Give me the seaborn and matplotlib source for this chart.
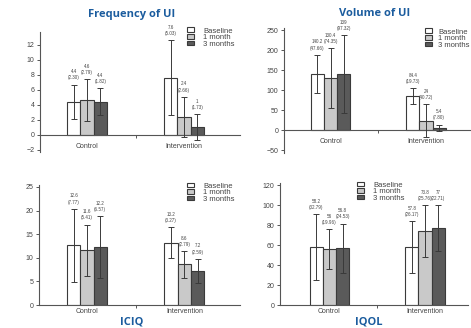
import matplotlib
matplotlib.use("Agg")
import matplotlib.pyplot as plt
from matplotlib.container import BarContainer
import seaborn as sns
import pandas as pd

# ---- data -------------------------------------------------------------
groups = ["Control", "Intervention"]
timepoints = ["Baseline", "1 month", "3 months"]

freq_mean = {"Control": [4.4, 4.6, 4.4], "Intervention": [7.6, 2.4, 1.0]}
freq_sd = {"Control": [2.30, 2.79, 1.82], "Intervention": [5.03, 2.66, 1.73]}
freq_lbl = {"Control": ["4.4", "4.6", "4.4"], "Intervention": ["7.6", "2.4", "1"]}
freq_sdlbl = {"Control": ["2.30", "2.79", "1.82"], "Intervention": ["5.03", "2.66", "1.73"]}

vol_mean = {"Control": [140.2, 130.4, 139.0], "Intervention": [84.4, 24.0, 5.4]}
vol_sd = {"Control": [47.66, 74.35, 97.32], "Intervention": [19.73, 40.72, 7.80]}
vol_lbl = {"Control": ["140.2", "130.4", "139"], "Intervention": ["84.4", "24", "5.4"]}
vol_sdlbl = {"Control": ["47.66", "74.35", "97.32"], "Intervention": ["19.73", "40.72", "7.80"]}

iciq_mean = {"Control": [12.6, 11.6, 12.2], "Intervention": [13.2, 8.6, 7.2]}
iciq_sd = {"Control": [7.77, 5.41, 6.57], "Intervention": [3.27, 2.79, 2.59]}
iciq_lbl = {"Control": ["12.6", "11.6", "12.2"], "Intervention": ["13.2", "8.6", "7.2"]}
iciq_sdlbl = {"Control": ["7.77", "5.41", "6.57"], "Intervention": ["3.27", "2.79", "2.59"]}

iqol_mean = {"Control": [58.2, 56.0, 56.8], "Intervention": [57.8, 73.8, 77.0]}
iqol_sd = {"Control": [32.79, 19.96, 24.53], "Intervention": [26.17, 25.76, 22.71]}
iqol_lbl = {"Control": ["58.2", "56", "56.8"], "Intervention": ["57.8", "73.8", "77"]}
iqol_sdlbl = {"Control": ["32.79", "19.96", "24.53"], "Intervention": ["26.17", "25.76", "22.71"]}

titles = ["Frequency of UI", "Volume of UI", "ICIQ", "IQOL"]

# ---- style ------------------------------------------------------------
sns.set_theme(style="white")
plt.rcParams["font.family"] = ["Liberation Sans", "DejaVu Sans"]

W, H = 471, 328
fig = plt.figure(figsize=(W / 100, H / 100), dpi=100)
fig.patch.set_facecolor("white")

palette = {"Baseline": "#ffffff", "1 month": "#c9c9c9", "3 months": "#5a5a5a"}
ink = "#3a3a3a"
title_color = "#1b5c9e"


def box(l, t, r, b):
    return [l / W, 1 - b / H, (r - l) / W, (b - t) / H]


panels = [
    dict(mean=freq_mean, sd=freq_sd, lbl=freq_lbl, sdl=freq_sdlbl,
         rect=box(40, 32, 240, 152), ylim=(-2.3, 13.7), xlim=(-0.485, 1.577),
         yticks=range(-2, 13, 2), leg=(187, 27.5), legpad=1.2, xpad=6.0,
         title_xy=(132, 14)),
    dict(mean=vol_mean, sd=vol_sd, lbl=vol_lbl, sdl=vol_sdlbl,
         rect=box(284, 28, 490, 153), ylim=(-57, 255), xlim=(-0.487, 1.67),
         yticks=range(-50, 251, 50), leg=(425, 28.5), legpad=0.8, xpad=6.0,
         title_xy=(375, 14)),
    dict(mean=iciq_mean, sd=iciq_sd, lbl=iciq_lbl, sdl=iciq_sdlbl,
         rect=box(39, 185, 240, 305), ylim=(0, 25.4), xlim=(-0.492, 1.57),
         yticks=range(0, 26, 5), leg=(187, 182.5), legpad=1.2, xpad=2.5,
         title_xy=(132, 322)),
    dict(mean=iqol_mean, sd=iqol_sd, lbl=iqol_lbl, sdl=iqol_sdlbl,
         rect=box(280, 183, 468, 305), ylim=(0, 122), xlim=(-0.518, 1.45),
         yticks=range(0, 121, 20), leg=(357, 181.5), legpad=1.2, xpad=2.5,
         title_xy=(369, 322)),
]

for p, title in zip(panels, titles):
    rows = []
    for g in groups:
        for t, m in zip(timepoints, p["mean"][g]):
            rows.append({"group": g, "time": t, "value": m})
    df = pd.DataFrame(rows)

    ax = fig.add_axes(p["rect"])
    ax.set_facecolor("white")
    sns.barplot(data=df, x="group", y="value", hue="time", order=groups,
                hue_order=timepoints, palette=palette, width=0.41,
                edgecolor=ink, linewidth=0.8, errorbar=None, legend=False,
                ax=ax)

    ax.set_xlim(*p["xlim"])
    ax.set_ylim(*p["ylim"])
    span = p["ylim"][1] - p["ylim"][0]

    bars = [c for c in ax.containers if isinstance(c, BarContainer)]

    # error bars (mean ± SD) with the value printed above each cap
    for i, cont in enumerate(bars):
        for j, bar in enumerate(cont.patches):
            g = groups[j]
            m = p["mean"][g][i]
            s = p["sd"][g][i]
            x = bar.get_x() + bar.get_width() / 2
            ax.errorbar(x, m, yerr=s, fmt="none", ecolor=ink, elinewidth=0.7,
                        capsize=2.4, capthick=0.7, zorder=3)
            ax.text(x, m + s + span * 0.035,
                    f"{p['lbl'][g][i]}\n({p['sdl'][g][i]})",
                    ha="center", va="bottom", fontsize=3.25, color="#444444",
                    linespacing=1.3)

    # axes styling
    for side in ("top", "right"):
        ax.spines[side].set_visible(False)
    for side in ("left", "bottom"):
        ax.spines[side].set_color("#555555")
        ax.spines[side].set_linewidth(0.8)
    ax.spines["bottom"].set_position(("data", 0))
    ax.spines["left"].set_bounds(*p["ylim"])

    ax.set_yticks(list(p["yticks"]))
    ax.tick_params(axis="y", length=2.5, width=0.7, color="#555555",
                   labelsize=5, labelcolor="#444444", pad=1.5, left=True)
    ax.set_xticks([0, 1])
    ax.set_xticklabels(groups)
    ax.tick_params(axis="x", length=0, labelsize=5, labelcolor="#444444",
                   pad=p["xpad"])
    ax.set_xticks([0.5], minor=True)
    ax.tick_params(axis="x", which="minor", length=2.5, width=0.7,
                   color="#555555", bottom=True)
    ax.set_xlabel("")
    ax.set_ylabel("")
    ax.grid(False)

    handles = [c.patches[0] for c in bars]
    lx, ly = p["leg"]
    ax.legend(handles, timepoints, loc="upper left",
              bbox_to_anchor=(lx / W, 1 - ly / H),
              bbox_transform=fig.transFigure, frameon=False,
              fontsize=5.5, handlelength=0.95, handleheight=0.55,
              handletextpad=p["legpad"], labelspacing=-0.05, borderpad=0,
              borderaxespad=0, labelcolor="#444444")

    tx, ty = p["title_xy"]
    fig.text(tx / W, 1 - ty / H, title, ha="center", va="center",
             fontsize=8, fontweight="bold", color=title_color,
             family=["Open Sans", "DejaVu Sans"])

fig.savefig("out.png", dpi=100, facecolor="white")
